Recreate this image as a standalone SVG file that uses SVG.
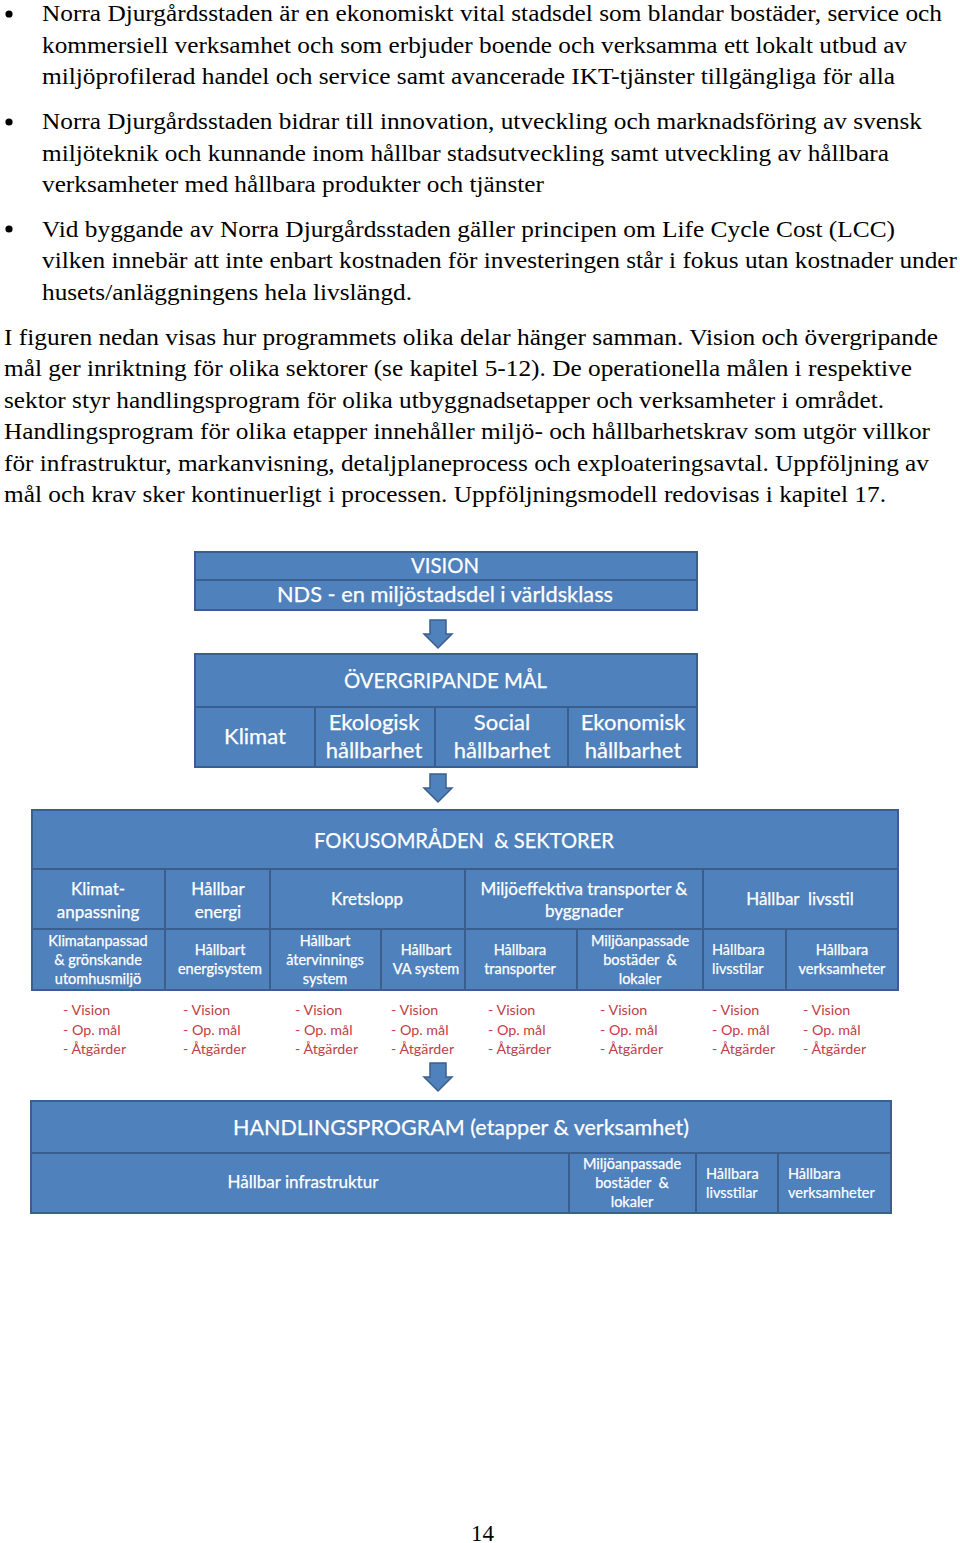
<svg xmlns="http://www.w3.org/2000/svg" width="960" height="1543" viewBox="0 0 960 1543">
<style>
.body{font-family:"Liberation Serif","Times New Roman",serif;font-size:23px;fill:#000}
.box{fill:#4F81BD;stroke:#3A5F8E;stroke-width:2}
.arrow{fill:#4F81BD;stroke:#3A5F8E;stroke-width:1.5}
.w{font-family:Lato,"Open Sans",sans-serif;fill:#fff;stroke:#fff;stroke-width:0.25;text-anchor:middle;white-space:pre}
.wl{font-family:Lato,"Open Sans",sans-serif;fill:#fff;stroke:#fff;stroke-width:0.2}
.h1{font-size:22px}
.h2{font-size:17px}
.h3{font-size:14.5px}
.red{font-family:Lato,"Open Sans",sans-serif;font-size:14.3px;fill:#C0404A}
</style>
<defs>
<path id="arr" d="M-8,0 H8 V14 H14 L0,28 L-14,14 H-8 Z"/>
</defs>
<rect width="960" height="1543" fill="#fff"/>

<g id="text-body">
<circle cx="9" cy="14" r="3.6"/>
<circle cx="9" cy="122" r="3.6"/>
<circle cx="9" cy="229" r="3.6"/>
<text class="body" x="42" y="21" textLength="900" lengthAdjust="spacingAndGlyphs">Norra Djurgårdsstaden är en ekonomiskt vital stadsdel som blandar bostäder, service och</text>
<text class="body" x="42" y="53" textLength="865" lengthAdjust="spacingAndGlyphs">kommersiell verksamhet och som erbjuder boende och verksamma ett lokalt utbud av</text>
<text class="body" x="42" y="84" textLength="853" lengthAdjust="spacingAndGlyphs">miljöprofilerad handel och service samt avancerade IKT-tjänster tillgängliga för alla</text>
<text class="body" x="42" y="129" textLength="880" lengthAdjust="spacingAndGlyphs">Norra Djurgårdsstaden bidrar till innovation, utveckling och marknadsföring av svensk</text>
<text class="body" x="42" y="161" textLength="847" lengthAdjust="spacingAndGlyphs">miljöteknik och kunnande inom hållbar stadsutveckling samt utveckling av hållbara</text>
<text class="body" x="42" y="192" textLength="502" lengthAdjust="spacingAndGlyphs">verksamheter med hållbara produkter och tjänster</text>
<text class="body" x="42" y="237" textLength="853" lengthAdjust="spacingAndGlyphs">Vid byggande av Norra Djurgårdsstaden gäller principen om Life Cycle Cost (LCC)</text>
<text class="body" x="42" y="268" textLength="915" lengthAdjust="spacingAndGlyphs">vilken innebär att inte enbart kostnaden för investeringen står i fokus utan kostnader under</text>
<text class="body" x="42" y="300" textLength="370" lengthAdjust="spacingAndGlyphs">husets/anläggningens hela livslängd.</text>
<text class="body" x="4" y="345" textLength="934" lengthAdjust="spacingAndGlyphs">I figuren nedan visas hur programmets olika delar hänger samman. Vision och övergripande</text>
<text class="body" x="4" y="376" textLength="908" lengthAdjust="spacingAndGlyphs">mål ger inriktning för olika sektorer (se kapitel 5-12). De operationella målen i respektive</text>
<text class="body" x="4" y="408" textLength="880" lengthAdjust="spacingAndGlyphs">sektor styr handlingsprogram för olika utbyggnadsetapper och verksamheter i området.</text>
<text class="body" x="4" y="439" textLength="926" lengthAdjust="spacingAndGlyphs">Handlingsprogram för olika etapper innehåller miljö- och hållbarhetskrav som utgör villkor</text>
<text class="body" x="4" y="471" textLength="925" lengthAdjust="spacingAndGlyphs">för infrastruktur, markanvisning, detaljplaneprocess och exploateringsavtal. Uppföljning av</text>
<text class="body" x="4" y="502" textLength="882" lengthAdjust="spacingAndGlyphs">mål och krav sker kontinuerligt i processen. Uppföljningsmodell redovisas i kapitel 17.</text>
<text class="body" x="482.5" y="1541" text-anchor="middle">14</text>
</g>

<g id="connectors">
<use href="#arr" class="arrow" x="438" y="620"/>
<use href="#arr" class="arrow" x="438" y="774"/>
<use href="#arr" class="arrow" x="438" y="1063"/>
</g>

<g id="vision">
<rect class="box" x="195" y="552" width="502" height="28"/>
<rect class="box" x="195" y="580" width="502" height="30"/>
<text class="w h1" x="445" y="573" textLength="68" lengthAdjust="spacingAndGlyphs">VISION</text>
<text class="w h1" x="445" y="602" textLength="336" lengthAdjust="spacingAndGlyphs">NDS - en miljöstadsdel i världsklass</text>
</g>

<g id="overgripande">
<rect class="box" x="195" y="654" width="502" height="53"/>
<rect class="box" x="195" y="707" width="120" height="60"/>
<rect class="box" x="315" y="707" width="120" height="60"/>
<rect class="box" x="435" y="707" width="133" height="60"/>
<rect class="box" x="568" y="707" width="129" height="60"/>
<text class="w h1" x="445.5" y="688" textLength="203" lengthAdjust="spacingAndGlyphs">ÖVERGRIPANDE MÅL</text>
<text class="w h1" x="255" y="744">Klimat</text>
<text class="w h1" x="374" y="730">Ekologisk</text>
<text class="w h1" x="374" y="758">hållbarhet</text>
<text class="w h1" x="502" y="730">Social</text>
<text class="w h1" x="502" y="758">hållbarhet</text>
<text class="w h1" x="633" y="730">Ekonomisk</text>
<text class="w h1" x="633" y="758">hållbarhet</text>
</g>

<g id="fokus">
<rect class="box" x="32" y="810" width="866" height="59"/>
<text class="w h1" x="464" y="848" textLength="300" lengthAdjust="spacingAndGlyphs">FOKUSOMRÅDEN  &amp; SEKTORER</text>
<rect class="box" x="32" y="869" width="133" height="60"/>
<rect class="box" x="165" y="869" width="105" height="60"/>
<rect class="box" x="270" y="869" width="195" height="60"/>
<rect class="box" x="465" y="869" width="238" height="60"/>
<rect class="box" x="703" y="869" width="195" height="60"/>
<text class="w h2" x="98" y="895">Klimat-</text>
<text class="w h2" x="98" y="918">anpassning</text>
<text class="w h2" x="218" y="895">Hållbar</text>
<text class="w h2" x="218" y="918">energi</text>
<text class="w h2" x="367" y="905">Kretslopp</text>
<text class="w h2" x="584" y="895">Miljöeffektiva transporter &amp;</text>
<text class="w h2" x="584" y="917">byggnader</text>
<text class="w h2" x="800" y="905">Hållbar  livsstil</text>
<rect class="box" x="32" y="929" width="133" height="61"/>
<rect class="box" x="165" y="929" width="105" height="61"/>
<rect class="box" x="270" y="929" width="111" height="61"/>
<rect class="box" x="381" y="929" width="84" height="61"/>
<rect class="box" x="465" y="929" width="112" height="61"/>
<rect class="box" x="577" y="929" width="126" height="61"/>
<rect class="box" x="703" y="929" width="83" height="61"/>
<rect class="box" x="786" y="929" width="112" height="61"/>
<text class="w h3" x="98" y="946">Klimatanpassad</text>
<text class="w h3" x="98" y="965">&amp; grönskande</text>
<text class="w h3" x="98" y="984">utomhusmiljö</text>
<text class="w h3" x="220" y="955">Hållbart</text>
<text class="w h3" x="220" y="974">energisystem</text>
<text class="w h3" x="325" y="946">Hållbart</text>
<text class="w h3" x="325" y="965">återvinnings</text>
<text class="w h3" x="325" y="984">system</text>
<text class="w h3" x="426" y="955">Hållbart</text>
<text class="w h3" x="426" y="974">VA system</text>
<text class="w h3" x="520" y="955">Hållbara</text>
<text class="w h3" x="520" y="974">transporter</text>
<text class="w h3" x="640" y="946">Miljöanpassade</text>
<text class="w h3" x="640" y="965">bostäder  &amp;</text>
<text class="w h3" x="640" y="984">lokaler</text>
<text class="wl h3" x="712" y="955">Hållbara</text>
<text class="wl h3" x="712" y="974">livsstilar</text>
<text class="w h3" x="842" y="955">Hållbara</text>
<text class="w h3" x="842" y="974">verksamheter</text>
</g>

<g id="sektor-listor">
<text class="red" x="63" y="1015">- Vision</text>
<text class="red" x="63" y="1035">- Op. mål</text>
<text class="red" x="63" y="1054">- Åtgärder</text>
<text class="red" x="183" y="1015">- Vision</text>
<text class="red" x="183" y="1035">- Op. mål</text>
<text class="red" x="183" y="1054">- Åtgärder</text>
<text class="red" x="295" y="1015">- Vision</text>
<text class="red" x="295" y="1035">- Op. mål</text>
<text class="red" x="295" y="1054">- Åtgärder</text>
<text class="red" x="391" y="1015">- Vision</text>
<text class="red" x="391" y="1035">- Op. mål</text>
<text class="red" x="391" y="1054">- Åtgärder</text>
<text class="red" x="488" y="1015">- Vision</text>
<text class="red" x="488" y="1035">- Op. mål</text>
<text class="red" x="488" y="1054">- Åtgärder</text>
<text class="red" x="600" y="1015">- Vision</text>
<text class="red" x="600" y="1035">- Op. mål</text>
<text class="red" x="600" y="1054">- Åtgärder</text>
<text class="red" x="712" y="1015">- Vision</text>
<text class="red" x="712" y="1035">- Op. mål</text>
<text class="red" x="712" y="1054">- Åtgärder</text>
<text class="red" x="803" y="1015">- Vision</text>
<text class="red" x="803" y="1035">- Op. mål</text>
<text class="red" x="803" y="1054">- Åtgärder</text>
</g>

<g id="handlingsprogram">
<rect class="box" x="31" y="1101" width="860" height="52"/>
<text class="w h1" x="461" y="1135" textLength="456" lengthAdjust="spacingAndGlyphs">HANDLINGSPROGRAM (etapper &amp; verksamhet)</text>
<rect class="box" x="31" y="1153" width="538" height="60"/>
<rect class="box" x="569" y="1153" width="127" height="60"/>
<rect class="box" x="696" y="1153" width="82" height="60"/>
<rect class="box" x="778" y="1153" width="113" height="60"/>
<text class="w h2" x="303" y="1188">Hållbar infrastruktur</text>
<text class="w h3" x="632" y="1169">Miljöanpassade</text>
<text class="w h3" x="632" y="1188">bostäder  &amp;</text>
<text class="w h3" x="632" y="1207">lokaler</text>
<text class="wl h3" x="706" y="1179">Hållbara</text>
<text class="wl h3" x="706" y="1198">livsstilar</text>
<text class="wl h3" x="788" y="1179">Hållbara</text>
<text class="wl h3" x="788" y="1198">verksamheter</text>
</g>
</svg>
